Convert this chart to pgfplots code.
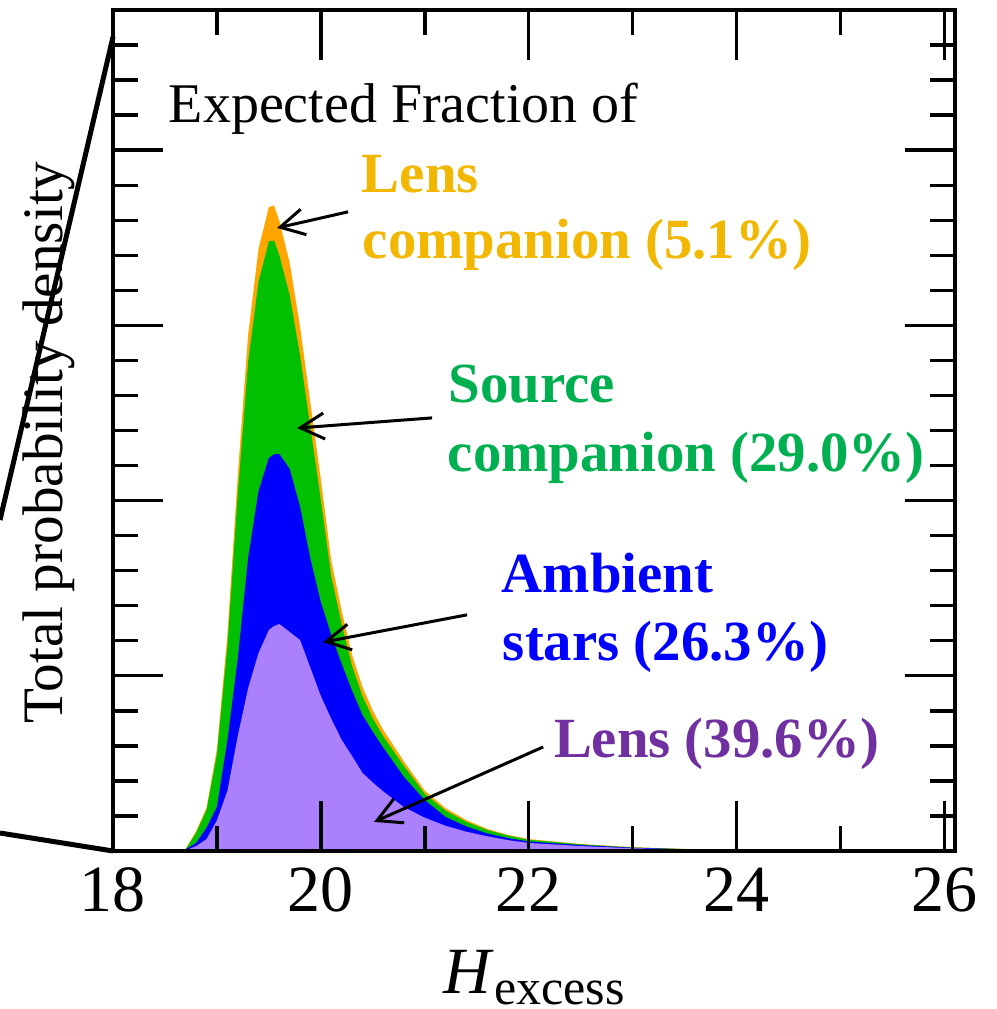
\documentclass[border=0pt]{standalone}
\usepackage{fontspec}
\setmainfont{Liberation Serif}
\usepackage{pgfplots}
\pgfplotsset{compat=1.18}
\usepackage{pgfplotstable}
\usetikzlibrary{calc,arrows.meta}

% fill colours of the stacked layers
\definecolor{lenscompfill}{RGB}{255,165,0}
\definecolor{srccompfill}{RGB}{0,192,0}
\definecolor{ambfill}{RGB}{0,0,255}
\definecolor{lensfill}{RGB}{170,128,255}
% annotation colours
\definecolor{lenscomptext}{RGB}{242,183,0}
\definecolor{srccomptext}{RGB}{0,176,80}
\definecolor{ambtext}{RGB}{0,0,255}
\definecolor{lenstext}{RGB}{112,48,160}

% Upper edge of each stacked layer (cumulative probability density):
% lens, lens+ambient, lens+ambient+source companion, total
\pgfplotstableread{
x      lens   plusamb  plussrc  total
18.60  0.00   0.00     0.00     0.00
18.70  0.02   0.05     0.05     0.06
18.80  0.14   0.23     0.52     0.57
18.90  0.34   0.66     1.17     1.23
19.00  0.88   1.26     2.76     2.91
19.10  1.71   3.14     5.82     6.14
19.20  3.28   5.48     10.15    10.70
19.30  4.65   8.36     13.95    14.73
19.40  5.65   10.27    16.25    17.18
19.50  6.31   11.22    17.40    18.38
19.55  6.42   11.32    17.42    18.42
19.60  6.48   11.33    17.00    17.98
19.70  6.25   10.90    15.86    16.78
19.80  6.02   9.82     14.13    14.95
19.90  5.22   8.33     12.06    12.76
20.00  4.42   7.10     10.01    10.59
20.10  3.77   6.16     7.83     8.28
20.20  3.17   5.34     6.47     6.85
20.30  2.71   4.57     5.28     5.59
20.40  2.23   3.88     4.42     4.68
20.50  1.95   3.40     3.78     4.00
20.60  1.70   2.95     3.27     3.45
20.80  1.25   2.11     2.42     2.55
21.00  0.95   1.45     1.63     1.72
21.20  0.72   0.97     1.15     1.22
21.40  0.55   0.70     0.83     0.88
21.60  0.42   0.50     0.60     0.63
21.80  0.31   0.37     0.44     0.46
22.00  0.23   0.27     0.32     0.34
22.50  0.14   0.17     0.19     0.20
23.00  0.08   0.095    0.10     0.11
23.50  0.04   0.05     0.055    0.06
24.00  0.015  0.02     0.025    0.03
24.50  0.00   0.00     0.00     0.00
}\layers

\newcommand{\labfont}{\rmfamily\fontsize{14}{16}\selectfont}
\newcommand{\ylabfont}{\rmfamily\fontsize{14.3}{16}\selectfont}
\newcommand{\boldlab}{\rmfamily\bfseries\fontsize{14.2}{16}\selectfont}
\newcommand{\tickfont}{\rmfamily\fontsize{16.5}{18}\selectfont}

\begin{document}
\begin{tikzpicture}[font=\rmfamily,
  annot/.style={anchor=base west, inner sep=0pt, font=\boldlab}]
\begin{axis}[
  scale only axis,
  width=210.5pt, height=210.25pt,
  xmin=18, xmax=26.1, ymin=0, ymax=24,
  xtick={18,20,22,24,26},
  minor x tick num=1,
  ytick={0,5,10,15,20,25},
  minor y tick num=4,
  yticklabels={},
  tick align=inside,
  tick pos=both,
  major tick length=12.5pt,
  minor tick length=6.25pt,
  every tick/.style={black, line width=0.85pt},
  axis line style={line width=1pt},
  /pgf/number format/assume math mode=true,
  xticklabel style={font=\tickfont, inner sep=0pt, yshift=-4pt},
  xlabel={\textit{H}\raisebox{-2.75pt}{\fontsize{12.5}{14}\selectfont excess}},
  xlabel style={at={(rel axis cs:0.5,0)}, anchor=base, yshift=-35.5pt, font=\tickfont},
  ylabel={Total probability density},
  ylabel style={at={(rel axis cs:-0.0594,0.486)}, anchor=base, font=\ylabfont},
  clip=false,
  axis on top,
]
% stacked layers, drawn from the top layer down
\addplot[fill=lenscompfill, draw=none] table[x=x, y=total]   {\layers} \closedcycle;
\addplot[fill=srccompfill,  draw=none] table[x=x, y=plussrc] {\layers} \closedcycle;
\addplot[fill=ambfill,      draw=none] table[x=x, y=plusamb] {\layers} \closedcycle;
\addplot[fill=lensfill,     draw=none] table[x=x, y=lens]    {\layers} \closedcycle;

% annotations
\node[anchor=base west, inner sep=0pt, font=\labfont] at (axis cs:18.529,20.80) {Expected Fraction of};

\node[annot, text=lenscomptext] at (axis cs:20.387,18.78) {Lens};
\node[annot, text=lenscomptext] at (axis cs:20.397,16.92) {companion (5.1\%)};

\node[annot, text=srccomptext] at (axis cs:21.224,12.79) {Source};
\node[annot, text=srccomptext] at (axis cs:21.215,10.82) {companion (29.0\%)};

\node[annot, text=ambtext] at (axis cs:21.734,7.39) {Ambient};
\node[annot, text=ambtext] at (axis cs:21.744,5.45) {stars (26.3\%)};

\node[annot, text=lenstext] at (axis cs:22.235,2.68) {Lens (39.6\%)};

\begin{scope}[line width=0.75pt, -{Straight Barb[length=6pt,width=6.5pt]}]
  \draw (axis cs:20.262,18.24) -- (axis cs:19.578,17.78);
  \draw (axis cs:21.070,12.36) -- (axis cs:19.771,12.07);
  \draw (axis cs:21.407,6.74)  -- (axis cs:20.021,5.96);
  \draw (axis cs:22.139,2.97)  -- (axis cs:20.512,0.83);
\end{scope}

% zoom guide lines on the left
\draw[line width=1.25pt] (rel axis cs:-0.1342,0.3936) -- (rel axis cs:0,0.968);
\draw[line width=1.25pt] (rel axis cs:-0.1342,0.0214) -- (rel axis cs:0,0);
\end{axis}
\pgfresetboundingbox
\path ($(current axis.south west)+(-28.25pt,-39.5pt)$) rectangle ($(current axis.north east)+(10.5pt,2.5pt)$);
\end{tikzpicture}
\end{document}
